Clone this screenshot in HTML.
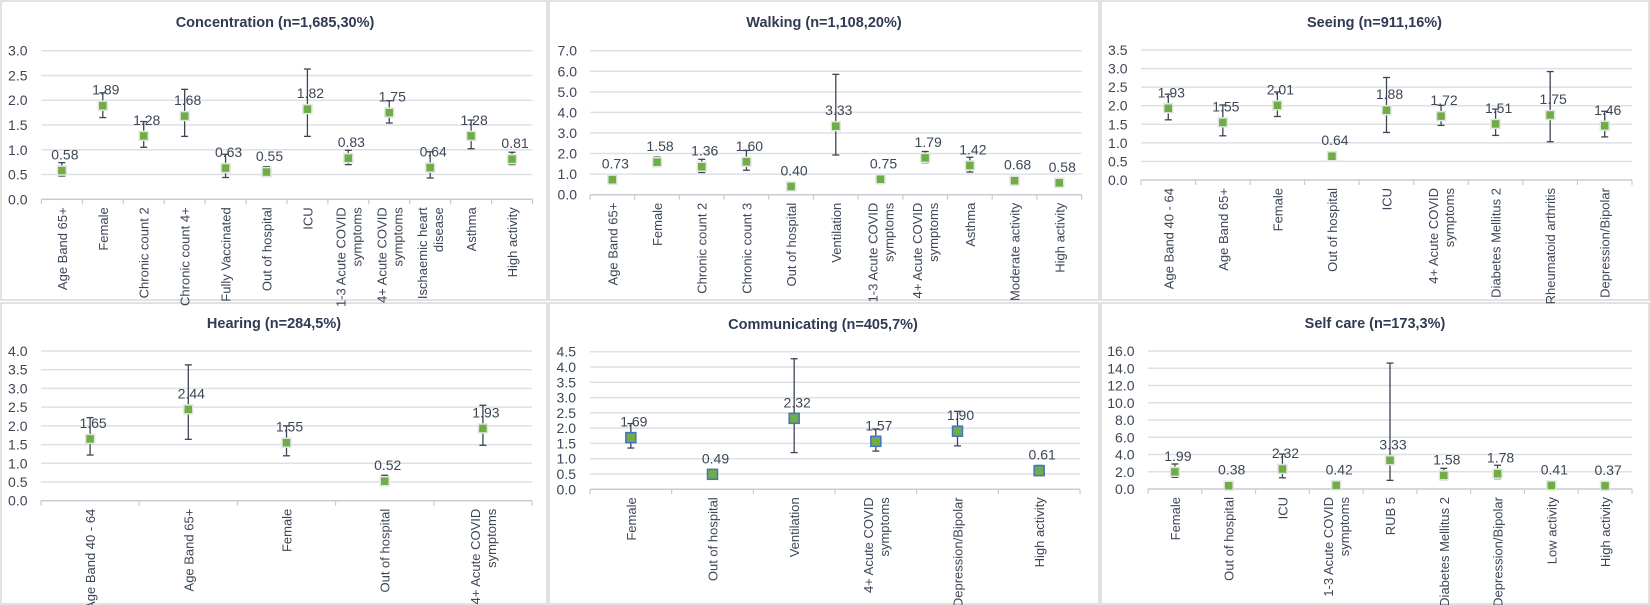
<!DOCTYPE html>
<html><head><meta charset="utf-8">
<style>
html,body{margin:0;padding:0;background:#fff;}
svg{display:block;font-family:"Liberation Sans",sans-serif;}
</style></head>
<body>
<svg id="s" width="1650" height="605" viewBox="0 0 1650 605" xmlns="http://www.w3.org/2000/svg">
<rect width="1650" height="605" fill="#fff"/>
<g fill="none" stroke="#d9d9d9" stroke-width="1.5">
<rect x="1" y="1" width="546" height="299"/>
<rect x="549" y="1" width="550" height="299"/>
<rect x="1101" y="1" width="548" height="299"/>
<rect x="1" y="303" width="546" height="301"/>
<rect x="549" y="303" width="550" height="301"/>
<rect x="1101" y="303" width="548" height="301"/>
</g>
</svg>
<script>
const NS="http://www.w3.org/2000/svg";
const svg=document.getElementById('s');
function el(t,a,txt){const e=document.createElementNS(NS,t);for(const k in a)e.setAttribute(k,a[k]);if(txt!==undefined)e.textContent=txt;svg.appendChild(e);return e;}
const charts=[
{title:"Concentration (n=1,685,30%)",tx:275,ty:27,x0:41.4,x1:532.5,yTop:50.7,yBot:199.3,max:3,step:0.5,dec:1,lx:27.5,
 d:[["Age Band 65+",0.58,0.47,0.74],["Female",1.89,1.65,2.15],["Chronic count 2",1.28,1.05,1.57],["Chronic count 4+",1.68,1.27,2.22],["Fully Vaccinated",0.63,0.44,0.91],["Out of hospital",0.55,0.47,0.66],["ICU",1.82,1.27,2.63],["1-3 Acute COVID|symptoms",0.83,0.70,0.99],["4+ Acute COVID|symptoms",1.75,1.54,1.99],["Ischaemic heart|disease",0.64,0.43,0.96],["Asthma",1.28,1.02,1.60],["High activity",0.81,0.70,0.95]]},
{title:"Walking (n=1,108,20%)",tx:824,ty:27,x0:590,x1:1081.6,yTop:50.7,yBot:194.7,max:7,step:1,dec:1,lx:577,
 d:[["Age Band 65+",0.73,0.62,0.87],["Female",1.58,1.37,1.83],["Chronic count 2",1.36,1.08,1.72],["Chronic count 3",1.60,1.19,2.15],["Out of hospital",0.40,0.34,0.47],["Ventilation",3.33,1.93,5.85],["1-3 Acute COVID|symptoms",0.75,0.65,0.87],["4+ Acute COVID|symptoms",1.79,1.55,2.10],["Asthma",1.42,1.10,1.82],["Moderate activity",0.68,0.58,0.80],["High activity",0.58,0.50,0.67]]},
{title:"Seeing (n=911,16%)",tx:1374.5,ty:27,x0:1141,x1:1632,yTop:50,yBot:180,max:3.5,step:0.5,dec:1,lx:1127.5,
 d:[["Age Band 40 - 64",1.93,1.62,2.31],["Age Band 65+",1.55,1.19,2.02],["Female",2.01,1.71,2.37],["Out of hospital",0.64,0.56,0.76],["ICU",1.88,1.28,2.76],["4+ Acute COVID|symptoms",1.72,1.47,2.01],["Diabetes Mellitus 2",1.51,1.20,1.91],["Rheumatoid arthritis",1.75,1.03,2.92],["Depression/Bipolar",1.46,1.16,1.85]]},
{title:"Hearing (n=284,5%)",tx:274,ty:328,x0:41,x1:532,yTop:351,yBot:500.7,max:4,step:0.5,dec:1,lx:27.5,
 d:[["Age Band 40 - 64",1.65,1.22,2.22],["Age Band 65+",2.44,1.64,3.63],["Female",1.55,1.20,2.00],["Out of hospital",0.52,0.40,0.68],["4+ Acute COVID|symptoms",1.93,1.48,2.55]]},
{title:"Communicating (n=405,7%)",tx:823,ty:329,x0:590,x1:1080,yTop:351.7,yBot:489.3,max:4.5,step:0.5,dec:1,lx:576,blue:1,
 d:[["Female",1.69,1.35,2.15],["Out of hospital",0.49,0.45,0.54],["Ventilation",2.32,1.20,4.27],["4+ Acute COVID|symptoms",1.57,1.25,1.97],["Depression/Bipolar",1.90,1.42,2.55],["High activity",0.61,0.50,0.78]]},
{title:"Self care (n=173,3%)",tx:1375,ty:328,x0:1148,x1:1632,yTop:351,yBot:489,max:16,step:2,dec:1,lx:1134.5,
 d:[["Female",1.99,1.35,2.90],["Out of hospital",0.38,0.30,0.49],["ICU",2.32,1.30,4.05],["1-3 Acute COVID|symptoms",0.42,0.35,0.51],["RUB 5",3.33,1.00,14.60],["Diabetes Mellitus 2",1.58,1.05,2.40],["Depression/Bipolar",1.78,1.20,2.75],["Low activity",0.41,0.32,0.52],["High activity",0.37,0.30,0.46]]}
];
for(const c of charts){
 el('text',{x:c.tx,y:c.ty,'text-anchor':'middle','font-size':'14.5','font-weight':'bold',fill:'#2e3b52'},c.title);
 const Y=v=>c.yBot-(v/c.max)*(c.yBot-c.yTop);
 const n=Math.round(c.max/c.step);
 for(let i=0;i<=n;i++){
  const v=i*c.step, y=Y(v);
  if(i>0) el('line',{x1:c.x0,x2:c.x1,y1:y,y2:y,stroke:'#dde1e6','stroke-width':1.5});
  el('text',{x:c.lx,y:y+5,'text-anchor':'end','font-size':'14',fill:'#3c4656'},v.toFixed(c.dec));
 }
 el('line',{x1:c.x0,x2:c.x1,y1:c.yBot,y2:c.yBot,stroke:'#c8ccd2','stroke-width':1.5});
 const m=c.d.length, w=(c.x1-c.x0)/m;
 for(let i=0;i<=m;i++){const x=c.x0+i*w;el('line',{x1:x,x2:x,y1:c.yBot,y2:c.yBot+5,stroke:'#c8ccd2','stroke-width':1.2});}
 c.d.forEach((r,i)=>{
  const cx=c.x0+(i+0.5)*w;
  const [lab,v,lo,hi]=r;
  const yv=Y(v),yl=Y(lo),yh=Y(hi);
  el('line',{x1:cx,x2:cx,y1:yh,y2:yl,stroke:'#3b4555','stroke-width':1.3});
  el('line',{x1:cx-3.5,x2:cx+3.5,y1:yh,y2:yh,stroke:'#3b4555','stroke-width':1.3});
  el('line',{x1:cx-3.5,x2:cx+3.5,y1:yl,y2:yl,stroke:'#3b4555','stroke-width':1.3});
  if(c.blue) el('rect',{x:cx-5,y:yv-5,width:10,height:10,fill:'#70ad47',stroke:'#4472c4','stroke-width':1.5});
  else el('rect',{x:cx-4.5,y:yv-4.5,width:9,height:9,fill:'#70ad47',stroke:'#e3e6e0','stroke-width':1.5});
  el('text',{x:cx+3,y:yv-11,'text-anchor':'middle','font-size':'14',fill:'#3c4656'},v.toFixed(2));
  const parts=lab.split('|');
  const ty=c.yBot+8;
  parts.forEach((p,j)=>{
   const off=(j-(parts.length-1)/2)*16;
   el('text',{transform:`translate(${cx+off+5},${ty}) rotate(-90)`,'text-anchor':'end','font-size':'13',fill:'#3c4656'},p);
  });
 });
}
</script>
</body></html>
